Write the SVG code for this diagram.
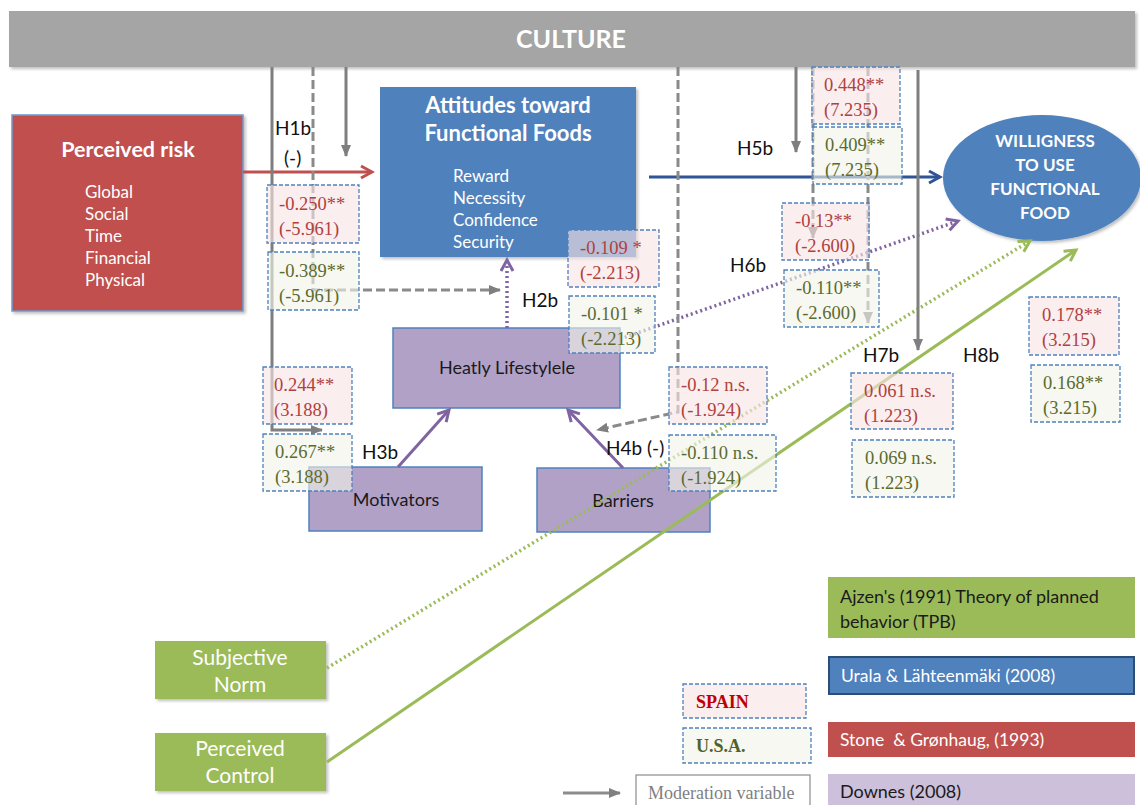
<svg xmlns="http://www.w3.org/2000/svg" width="1140" height="805" viewBox="0 0 1140 805">
  <style>
    .sans { font-family: Lato, "Liberation Sans", sans-serif; }
    .title { font-family: Lato, "Liberation Sans", sans-serif; font-weight: bold; fill: #ffffff; }
    .item { font-family: Lato, "Liberation Sans", sans-serif; font-size: 17px; fill: #ffffff; }
    .dark { font-family: Lato, "Liberation Sans", sans-serif; font-size: 18px; fill: #1a1a1a; }
    .hyp { font-family: Lato, "Liberation Sans", sans-serif; font-size: 19px; fill: #111111; }
    .coef { font-family: "Liberation Serif", serif; font-size: 18.5px; }
    .es { fill: #f9e3e3; fill-opacity: 0.62; stroke: #4f81bd; stroke-width: 1.3; stroke-dasharray: 4 2; }
    .us { fill: #f1f4e8; fill-opacity: 0.62; stroke: #4f81bd; stroke-width: 1.3; stroke-dasharray: 4 2; }
    .tes { fill: #b0413e; }
    .tus { fill: #5b6b2f; }
    .gsolid { fill: none; stroke: #7f7f7f; stroke-width: 3; }
    .gdash { fill: none; stroke: #8a8a8a; stroke-width: 3; stroke-dasharray: 9 4; }
  </style>
  <defs>
    <filter id="shadow" x="-5%" y="-5%" width="115%" height="120%">
      <feDropShadow dx="2" dy="2" stdDeviation="1.5" flood-color="#000000" flood-opacity="0.25"/>
    </filter>
    <marker id="arrGray" markerUnits="userSpaceOnUse" markerWidth="12" markerHeight="12" refX="11" refY="6" orient="auto">
      <path d="M0,1 L12,6 L0,11 z" fill="#7f7f7f"/>
    </marker>
    <marker id="arrRed" markerUnits="userSpaceOnUse" markerWidth="16" markerHeight="16" refX="13" refY="8" orient="auto">
      <path d="M2,2 L13,8 L2,14" fill="none" stroke="#c0504d" stroke-width="3"/>
    </marker>
    <marker id="arrBlue" markerUnits="userSpaceOnUse" markerWidth="16" markerHeight="16" refX="13" refY="8" orient="auto">
      <path d="M2,2 L13,8 L2,14" fill="none" stroke="#2f5597" stroke-width="3"/>
    </marker>
    <marker id="arrPurple" markerUnits="userSpaceOnUse" markerWidth="16" markerHeight="16" refX="13" refY="8" orient="auto">
      <path d="M2,2 L13,8 L2,14" fill="none" stroke="#8064a2" stroke-width="3"/>
    </marker>
    <marker id="arrGreen" markerUnits="userSpaceOnUse" markerWidth="16" markerHeight="16" refX="13" refY="8" orient="auto">
      <path d="M2,2 L13,8 L2,14" fill="none" stroke="#9bbb59" stroke-width="3"/>
    </marker>
  </defs>

  <rect width="1140" height="805" fill="#ffffff"/>

  <!-- Culture band -->
  <g id="culture">
    <rect x="9" y="11" width="1126" height="56" fill="#a5a5a5" filter="url(#shadow)"/>
    <text x="571" y="48" text-anchor="middle" class="title" font-size="25">CULTURE</text>
  </g>

  <!-- Main constructs -->
  <g id="perceived-risk">
    <rect x="12" y="115" width="231" height="196" fill="#c0504d" stroke="#6d9ad0" stroke-width="1.5" filter="url(#shadow)"/>
    <text x="128" y="157" text-anchor="middle" class="title" font-size="21.5">Perceived risk</text>
    <text x="85" y="198" class="item">Global</text>
    <text x="85" y="220" class="item">Social</text>
    <text x="85" y="242" class="item">Time</text>
    <text x="85" y="264" class="item">Financial</text>
    <text x="85" y="286" class="item">Physical</text>
  </g>

  <g id="attitudes">
    <rect x="380" y="87" width="256" height="170" fill="#4f81bd" filter="url(#shadow)"/>
    <text x="508" y="113" text-anchor="middle" class="title" font-size="22">Attitudes toward</text>
    <text x="508" y="141" text-anchor="middle" class="title" font-size="22">Functional Foods</text>
    <text x="453" y="182" class="item">Reward</text>
    <text x="453" y="204" class="item">Necessity</text>
    <text x="453" y="226" class="item">Confidence</text>
    <text x="453" y="248" class="item">Security</text>
  </g>

  <g id="willingness">
    <ellipse cx="1042" cy="178" rx="99" ry="63" fill="#4f81bd" filter="url(#shadow)"/>
    <text x="1045" y="147" text-anchor="middle" class="title" font-size="17">WILLIGNESS</text>
    <text x="1045" y="171" text-anchor="middle" class="title" font-size="17">TO USE</text>
    <text x="1045" y="195" text-anchor="middle" class="title" font-size="17">FUNCTIONAL</text>
    <text x="1045" y="219" text-anchor="middle" class="title" font-size="17">FOOD</text>
  </g>

  <g id="healthy-lifestyle">
    <rect x="393" y="328" width="227" height="80" fill="#b2a1c7" stroke="#4f81bd" stroke-width="1.5"/>
    <text x="507" y="374" text-anchor="middle" class="dark">Heatly Lifestylele</text>
  </g>

  <g id="motivators">
    <rect x="309" y="467" width="173" height="64" fill="#b2a1c7" stroke="#4f81bd" stroke-width="1.5"/>
    <text x="396" y="506" text-anchor="middle" class="dark">Motivators</text>
  </g>

  <g id="barriers">
    <rect x="537" y="468" width="173" height="64" fill="#b2a1c7" stroke="#4f81bd" stroke-width="1.5"/>
    <text x="623" y="507" text-anchor="middle" class="dark">Barriers</text>
  </g>

  <g id="subjective-norm">
    <rect x="155" y="641" width="171" height="58" fill="#9bbb59" filter="url(#shadow)"/>
    <text x="240" y="665" text-anchor="middle" class="sans" font-size="21" fill="#ffffff">Subjective</text>
    <text x="240" y="692" text-anchor="middle" class="sans" font-size="21" fill="#ffffff">Norm</text>
  </g>

  <g id="perceived-control">
    <rect x="155" y="733" width="171" height="58" fill="#9bbb59" filter="url(#shadow)"/>
    <text x="240" y="756" text-anchor="middle" class="sans" font-size="21" fill="#ffffff">Perceived</text>
    <text x="240" y="783" text-anchor="middle" class="sans" font-size="21" fill="#ffffff">Control</text>
  </g>

  <!-- Connectors -->
  <g id="connectors">
    <!-- direct paths -->
    <line x1="243" y1="172" x2="372" y2="172" stroke="#c0504d" stroke-width="3" marker-end="url(#arrRed)"/>
    <line x1="649" y1="177" x2="940" y2="177" stroke="#2f5597" stroke-width="3" marker-end="url(#arrBlue)"/>
    <line x1="507" y1="328" x2="507" y2="260" stroke="#8064a2" stroke-width="3.5" stroke-dasharray="2 3" marker-end="url(#arrPurple)"/>
    <line x1="620" y1="339" x2="958" y2="221" stroke="#8064a2" stroke-width="3.5" stroke-dasharray="2 3" marker-end="url(#arrPurple)"/>
    <line x1="398" y1="467" x2="449" y2="410" stroke="#8064a2" stroke-width="3" marker-end="url(#arrPurple)"/>
    <line x1="623" y1="468" x2="568" y2="410" stroke="#8064a2" stroke-width="3" marker-end="url(#arrPurple)"/>
    <line x1="327" y1="668" x2="1030" y2="241" stroke="#9bbb59" stroke-width="3.5" stroke-dasharray="2 3" marker-end="url(#arrGreen)"/>
    <line x1="327" y1="762" x2="1076" y2="250" stroke="#9bbb59" stroke-width="3" marker-end="url(#arrGreen)"/>

    <!-- moderation by culture -->
    <polyline points="272,67 272,430 322,430" class="gsolid" marker-end="url(#arrGray)"/>
    <polyline points="313,67 313,290 500,290" class="gdash" marker-end="url(#arrGray)"/>
    <line x1="346" y1="67" x2="346" y2="156" class="gsolid" marker-end="url(#arrGray)"/>
    <polyline points="678,67 678,412 597,430" class="gdash" marker-end="url(#arrGray)"/>
    <line x1="796" y1="67" x2="796" y2="152" class="gsolid" marker-end="url(#arrGray)"/>
    <line x1="813" y1="67" x2="813" y2="238" class="gdash" marker-end="url(#arrGray)"/>
    <line x1="868" y1="67" x2="868" y2="323" class="gdash" marker-end="url(#arrGray)"/>
    <line x1="918" y1="70" x2="918" y2="350" class="gsolid" marker-end="url(#arrGray)"/>
  </g>

  <!-- Hypothesis labels -->
  <g id="hypotheses" class="hyp">
    <text x="275" y="135">H1b</text>
    <text x="284" y="165">(-)</text>
    <text x="522" y="307">H2b</text>
    <text x="362" y="459">H3b</text>
    <text x="606" y="455">H4b (-)</text>
    <text x="737" y="155">H5b</text>
    <text x="730" y="272">H6b</text>
    <text x="863" y="362">H7b</text>
    <text x="963" y="362">H8b</text>
  </g>

  <!-- Path coefficients (t-values) -->
  <g id="coefficients" class="coef">
    <rect x="267" y="185" width="92" height="58" class="es"/>
    <text x="279" y="210" class="tes">-0.250**</text><text x="279" y="235" class="tes">(-5.961)</text>
    <rect x="268" y="252" width="91" height="58" class="us"/>
    <text x="279" y="277" class="tus">-0.389**</text><text x="279" y="302" class="tus">(-5.961)</text>

    <rect x="568" y="230" width="91" height="57" class="es"/>
    <text x="580" y="254" class="tes">-0.109 *</text><text x="580" y="279" class="tes">(-2.213)</text>
    <rect x="569" y="296" width="86" height="57" class="us"/>
    <text x="581" y="320" class="tus">-0.101 *</text><text x="581" y="345" class="tus">(-2.213)</text>

    <rect x="812" y="67" width="88" height="57" class="es"/>
    <text x="824" y="91" class="tes">0.448**</text><text x="824" y="116" class="tes">(7.235)</text>
    <rect x="813" y="127" width="89" height="57" class="us"/>
    <text x="825" y="151" class="tus">0.409**</text><text x="825" y="176" class="tus">(7.235)</text>

    <rect x="782" y="203" width="87" height="57" class="es"/>
    <text x="795" y="227" class="tes">-0.13**</text><text x="795" y="252" class="tes">(-2.600)</text>
    <rect x="784" y="270" width="95" height="57" class="us"/>
    <text x="796" y="294" class="tus">-0.110**</text><text x="796" y="319" class="tus">(-2.600)</text>

    <rect x="263" y="367" width="89" height="57" class="es"/>
    <text x="274" y="391" class="tes">0.244**</text><text x="274" y="416" class="tes">(3.188)</text>
    <rect x="263" y="434" width="89" height="57" class="us"/>
    <text x="275" y="458" class="tus">0.267**</text><text x="275" y="483" class="tus">(3.188)</text>

    <rect x="669" y="367" width="98" height="57" class="es"/>
    <text x="681" y="391" class="tes">-0.12 n.s.</text><text x="681" y="416" class="tes">(-1.924)</text>
    <rect x="669" y="435" width="107" height="56" class="us"/>
    <text x="681" y="459" class="tus">-0.110 n.s.</text><text x="681" y="484" class="tus">(-1.924)</text>

    <rect x="851" y="373" width="102" height="56" class="es"/>
    <text x="864" y="397" class="tes">0.061 n.s.</text><text x="864" y="422" class="tes">(1.223)</text>
    <rect x="852" y="440" width="102" height="57" class="us"/>
    <text x="865" y="464" class="tus">0.069 n.s.</text><text x="865" y="489" class="tus">(1.223)</text>

    <rect x="1029" y="297" width="90" height="58" class="es"/>
    <text x="1042" y="321" class="tes">0.178**</text><text x="1042" y="346" class="tes">(3.215)</text>
    <rect x="1031" y="365" width="89" height="57" class="us"/>
    <text x="1043" y="389" class="tus">0.168**</text><text x="1043" y="414" class="tus">(3.215)</text>
  </g>

  <!-- Legend -->
  <g id="legend">
    <rect x="828" y="577" width="307" height="61" fill="#9bbb59"/>
    <text x="840" y="603" class="dark" font-size="19">Ajzen's (1991) Theory of planned</text>
    <text x="840" y="628" class="dark" font-size="19">behavior (TPB)</text>

    <rect x="829" y="657" width="305" height="37" fill="#4f81bd" stroke="#2c4d75" stroke-width="2"/>
    <text x="841" y="682" class="sans" font-size="17.5" fill="#ffffff">Urala &amp; Lähteenmäki (2008)</text>

    <rect x="828" y="722" width="307" height="35" fill="#c0504d"/>
    <text x="840" y="746" class="sans" font-size="17.5" fill="#ffffff" style="white-space: pre">Stone  &amp; Grønhaug, (1993)</text>

    <rect x="828" y="774" width="307" height="35" fill="#ccc0da"/>
    <text x="840" y="798" class="dark">Downes (2008)</text>

    <rect x="683" y="684" width="123" height="34" class="es"/>
    <text x="696" y="708" font-family="Liberation Serif, serif" font-size="18" font-weight="bold" fill="#c00000">SPAIN</text>
    <rect x="683" y="728" width="128" height="35" class="us"/>
    <text x="696" y="752" font-family="Liberation Serif, serif" font-size="18" font-weight="bold" fill="#4f6228">U.S.A.</text>

    <line x1="563" y1="793" x2="620" y2="793" stroke="#8c8c8c" stroke-width="3" marker-end="url(#arrGray)"/>
    <rect x="636" y="775" width="174" height="34" fill="#ffffff" stroke="#8c8c8c" stroke-width="1.2"/>
    <text x="648" y="799" font-family="Liberation Serif, serif" font-size="18" fill="#7f7f7f">Moderation variable</text>
  </g>
</svg>
